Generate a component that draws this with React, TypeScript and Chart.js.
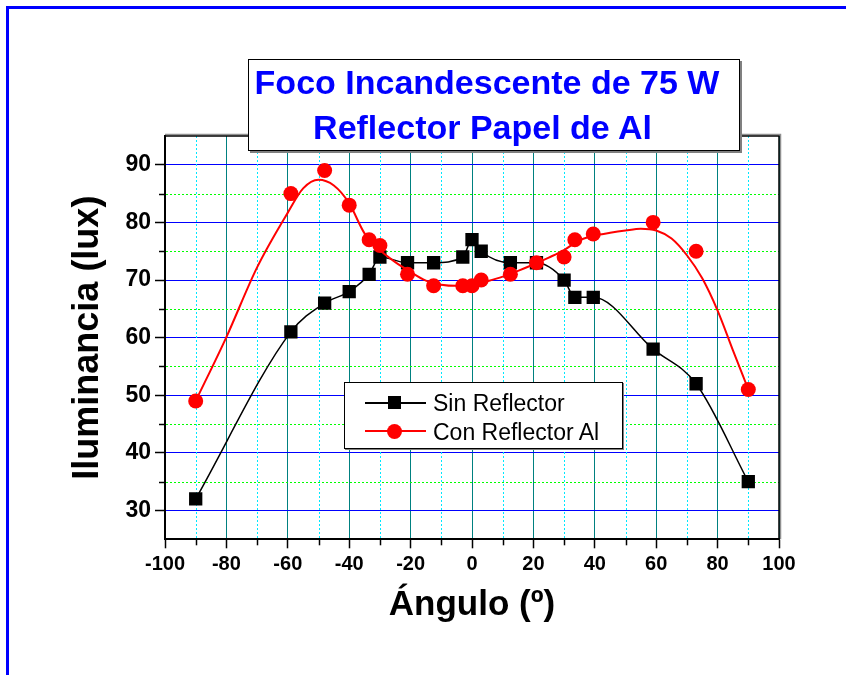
import React, { useEffect, useRef } from "react";
import { Chart, registerables } from "chart.js";
Chart.register(...registerables);

// ---- data ----
const angles = [-90, -59, -48, -40, -33.5, -30, -21, -12.5, -3, 0, 3, 12.5, 21, 30, 33.5, 39.5, 59, 73, 90];
const sinReflector = [32, 61, 66, 68, 71, 74, 73, 73, 74, 77, 75, 73, 73, 70, 67, 67, 58, 52, 35];
const conReflector = [49, 85, 89, 83, 77, 76, 71, 69, 69, 69, 70, 71, 73, 74, 77, 78, 80, 75, 51];
// smooth fitted curve of "Con Reflector Al" as it appears in the picture
const fitAngles = [-90, -80, -70, -60, -55, -50, -45, -40, -35, -30, -25, -20, -15, -10, -5, 0, 5, 10, 15, 20, 25, 30, 35, 40, 45, 50, 55, 60, 65, 70, 75, 80, 85, 90];
const fitValues = [49, 60.1, 72.2, 81.7, 85.9, 87.4, 86.4, 83.3, 78.1, 75.2, 73.1, 71.4, 69.9, 69.2, 69, 69.1, 69.8, 70.6, 71.6, 72.7, 73.9, 75.2, 76.9, 77.7, 78.2, 78.6, 78.9, 78.6, 77.2, 74.3, 70.3, 64.7, 57.8, 51];

const xTicks = [-100, -80, -60, -40, -20, 0, 20, 40, 60, 80, 100];
const xMinor = [-90, -70, -50, -30, -10, 10, 30, 50, 70, 90];
const yTicks = [30, 40, 50, 60, 70, 80, 90];
const yMinor = [35, 45, 55, 65, 75, 85];

const titleLines = ["Foco Incandescente de 75 W", "Reflector Papel de Al"];
const seriesNames = ["Sin Reflector", "Con Reflector Al"];
const xTitle = "Ángulo (º)";
const yTitle = "Iluminancia (lux)";

const FONT = "'Liberation Sans', Arial, Helvetica, sans-serif";

const overlayPlugin = {
  id: "minorGridFrame",
  beforeDatasetsDraw(chart: any) {
    const { ctx, chartArea: a, scales } = chart;
    const xs = scales.x;
    const ys = scales.y;
    ctx.save();
    ctx.lineWidth = 1;
    ctx.setLineDash([2, 2]);
    ctx.strokeStyle = "#00ff00";
    for (const v of yMinor) {
      const py = Math.round(ys.getPixelForValue(v)) + 0.5;
      ctx.beginPath();
      ctx.moveTo(a.left + 1, py);
      ctx.lineTo(a.right, py);
      ctx.stroke();
    }
    ctx.strokeStyle = "#00e8ff";
    for (const v of xMinor) {
      const px = Math.round(xs.getPixelForValue(v)) + 0.5;
      ctx.beginPath();
      ctx.moveTo(px, a.top);
      ctx.lineTo(px, a.bottom - 1);
      ctx.stroke();
    }
    ctx.setLineDash([]);
    // minor tick marks
    ctx.strokeStyle = "#000";
    ctx.lineWidth = 1.5;
    for (const v of yMinor) {
      const py = Math.round(ys.getPixelForValue(v)) + 0.5;
      ctx.beginPath();
      ctx.moveTo(a.left - 6, py);
      ctx.lineTo(a.left, py);
      ctx.stroke();
    }
    for (const v of xMinor) {
      const px = Math.round(xs.getPixelForValue(v)) + 0.5;
      ctx.beginPath();
      ctx.moveTo(px, a.bottom);
      ctx.lineTo(px, a.bottom + 6);
      ctx.stroke();
    }
    // top & right frame with a grey shadow
    ctx.lineWidth = 1.5;
    ctx.strokeStyle = "#909090";
    ctx.beginPath();
    ctx.moveTo(a.left, a.top - 1.5);
    ctx.lineTo(a.right + 1.5, a.top - 1.5);
    ctx.lineTo(a.right + 1.5, a.bottom);
    ctx.stroke();
    ctx.strokeStyle = "#000";
    ctx.beginPath();
    ctx.moveTo(a.left, a.top);
    ctx.lineTo(a.right, a.top);
    ctx.lineTo(a.right, a.bottom);
    ctx.stroke();
    ctx.restore();
  },
};

export default function App() {
  const ref = useRef<HTMLCanvasElement | null>(null);

  useEffect(() => {
    if (!ref.current) return;
    Chart.defaults.font.family = FONT;
    const chart = new Chart(ref.current, {
      type: "line",
      data: {
        datasets: [
          {
            label: seriesNames[1] + " points",
            data: angles.map((a, i) => ({ x: a, y: conReflector[i] })),
            showLine: false,
            pointStyle: "circle",
            pointRadius: 7.5,
            pointBackgroundColor: "#ff0000",
            pointBorderColor: "#ff0000",
            pointBorderWidth: 0,
            borderColor: "#ff0000",
            backgroundColor: "#ff0000",
          },
          {
            label: seriesNames[1],
            data: fitAngles.map((a, i) => ({ x: a, y: fitValues[i] })),
            borderColor: "#ff0000",
            borderWidth: 2,
            pointRadius: 0,
            cubicInterpolationMode: "monotone",
            fill: false,
          },
          {
            label: seriesNames[0],
            data: angles.map((a, i) => ({ x: a, y: sinReflector[i] })),
            borderColor: "#000000",
            borderWidth: 1.5,
            pointStyle: "rect",
            pointRadius: 9.4,
            pointBackgroundColor: "#000000",
            pointBorderColor: "#000000",
            pointBorderWidth: 0,
            cubicInterpolationMode: "monotone",
            fill: false,
          },
        ],
      },
      options: {
        responsive: false,
        animation: false,
        events: [],
        layout: { padding: { left: 66, right: 67, top: 136, bottom: 48.4 } },
        plugins: { legend: { display: false }, tooltip: { enabled: false }, title: { display: false } },
        scales: {
          x: {
            type: "linear",
            min: -100,
            max: 100,
            afterBuildTicks: (s: any) => {
              s.ticks = xTicks.map((v) => ({ value: v }));
            },
            afterFit: (s: any) => {
              s.height = 87.3;
            },
            ticks: {
              color: "#000",
              font: { size: 20, weight: "bold", family: FONT },
              padding: 4,
              maxRotation: 0,
              autoSkip: false,
              callback: (v: any) => String(v),
            },
            grid: {
              color: "#008080",
              lineWidth: 1,
              drawTicks: true,
              tickLength: 9,
              tickColor: "#000",
              tickWidth: 1.5,
            },
            border: { color: "#000", width: 2 },
            title: {
              display: true,
              text: xTitle,
              color: "#000",
              font: { size: 35, weight: "bold", family: FONT },
              padding: { top: 0, bottom: 0 },
            },
          },
          y: {
            type: "linear",
            min: 25,
            max: 95,
            afterBuildTicks: (s: any) => {
              s.ticks = yTicks.map((v) => ({ value: v }));
            },
            afterFit: (s: any) => {
              s.width = 99;
            },
            ticks: {
              color: "#000",
              font: { size: 23, weight: "bold", family: FONT },
              padding: 4,
              autoSkip: false,
              callback: (v: any) => String(v),
            },
            grid: {
              color: "#0000ff",
              lineWidth: 1,
              drawTicks: true,
              tickLength: 10,
              tickColor: "#000",
              tickWidth: 1.5,
            },
            border: { color: "#000", width: 2 },
            title: {
              display: true,
              text: yTitle,
              color: "#000",
              font: { size: 36, weight: "bold", family: FONT },
              padding: { top: 0, bottom: 0 },
            },
          },
        },
      },
      plugins: [overlayPlugin],
    } as any);
    return () => chart.destroy();
  }, []);

  return (
    <div style={{ position: "fixed", left: 0, top: 0, width: 846, height: 675, overflow: "hidden", background: "#fff" }}>
      <div
        style={{
          position: "absolute",
          left: 6,
          top: 6,
          width: 900,
          height: 800,
          borderLeft: "3px solid #0000ff",
          borderTop: "3px solid #0000ff",
        }}
      />
      <canvas ref={ref} width={846} height={675} style={{ position: "absolute", left: 0, top: 0, width: 846, height: 675 }} />
      {/* title box */}
      <div
        style={{
          position: "absolute",
          left: 248,
          top: 59,
          width: 492,
          height: 92,
          boxSizing: "border-box",
          border: "1px solid #000",
          boxShadow: "2px 2px 0 #808080",
          background: "#fff",
          fontFamily: FONT,
          fontWeight: "bold",
          fontSize: 34,
          color: "#0000ff",
          whiteSpace: "nowrap",
        }}
      >
        <div style={{ position: "absolute", left: 0, top: 2, width: 476, height: 40, lineHeight: "40px", textAlign: "center" }}>
          {titleLines[0]}
        </div>
        <div style={{ position: "absolute", left: 0, top: 46.5, width: 467, height: 40, lineHeight: "40px", textAlign: "center" }}>
          {titleLines[1]}
        </div>
      </div>
      {/* legend */}
      <div
        style={{
          position: "absolute",
          left: 344,
          top: 382,
          width: 279,
          height: 67,
          boxSizing: "border-box",
          border: "1px solid #000",
          boxShadow: "1px 1px 0 #808080",
          background: "#fff",
          fontFamily: FONT,
          fontSize: 23,
          color: "#000",
          whiteSpace: "nowrap",
        }}
      >
        <div style={{ position: "absolute", left: 20, top: 19, width: 61, height: 1.5, background: "#000" }} />
        <div style={{ position: "absolute", left: 42.5, top: 13, width: 13, height: 13, background: "#000" }} />
        <div style={{ position: "absolute", left: 88, top: 5, height: 30, lineHeight: "30px" }}>{seriesNames[0]}</div>
        <div style={{ position: "absolute", left: 20, top: 47, width: 61, height: 2, background: "#ff0000" }} />
        <div style={{ position: "absolute", left: 41.5, top: 41, width: 15, height: 15, borderRadius: "50%", background: "#ff0000" }} />
        <div style={{ position: "absolute", left: 88, top: 34, height: 30, lineHeight: "30px" }}>{seriesNames[1]}</div>
      </div>
    </div>
  );
}
